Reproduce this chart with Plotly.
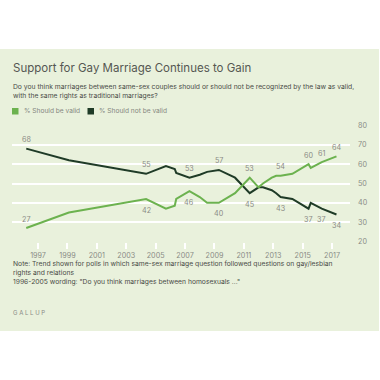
import plotly.graph_objects as go

# ---- data ----
poll_years = [1996.2, 1999.1, 2004.35, 2005.7, 2006.3, 2006.4, 2007.3, 2008.0, 2008.5, 2009.3,
              2010.4, 2011.4, 2012.0, 2012.3, 2012.9, 2013.2, 2013.5, 2014.3, 2015.4, 2015.55,
              2016.3, 2017.3]
should_be_valid = [27, 35, 42, 37, 38.5, 42, 46, 43, 40, 40,
                   45, 53, 48, 50, 53, 54, 54, 55, 60, 58,
                   61, 64]
should_not_be_valid = [68, 62, 55, 59, 57.5, 55.5, 53, 54.5, 56, 57,
                       53, 45, 48, 48, 46.5, 45, 43, 42, 37, 40,
                       37, 34]
# indices of labelled points (index, position)
valid_labels = [(0, "up"), (2, "down"), (6, "down"), (9, "down"), (11, "up"), (16, "up"),
                (18, "up"), (20, "up"), (21, "up")]
not_valid_labels = [(0, "up"), (2, "up"), (6, "up"), (9, "up"), (11, "down"), (16, "down"),
                    (18, "down"), (20, "down"), (21, "down")]
x_ticks = list(range(1997, 2018, 2))
y_ticks = [20, 30, 40, 50, 60, 70, 80]

LIGHT = "#6cb24f"
DARK = "#1f3b27"
BG = "#e9f1dc"
FONT = "Inter, Liberation Sans, sans-serif"

fig = go.Figure()
fig.add_trace(go.Scatter(x=poll_years, y=should_not_be_valid, mode="lines",
                         line=dict(color=DARK, width=2), showlegend=False, hoverinfo="skip"))
fig.add_trace(go.Scatter(x=poll_years, y=should_be_valid, mode="lines",
                         line=dict(color=LIGHT, width=2), showlegend=False, hoverinfo="skip"))

annotations = []
for series, labels in ((should_be_valid, valid_labels), (should_not_be_valid, not_valid_labels)):
    for i, pos in labels:
        annotations.append(dict(x=poll_years[i], y=series[i], xref="x", yref="y",
                                text=str(round(series[i])), showarrow=False,
                                yshift=9 if pos == "up" else -11,
                                font=dict(size=7.2, color="#8a8a84", family=FONT)))

# title / subtitle / notes (paper coordinates; plot area 12..350 x 125..242 px)
def px_x(p):
    return (p - 12) / 338.0

def px_y(p):
    return (242 - p) / 117.0

annotations += [
    dict(x=px_x(11), y=px_y(68), xref="paper", yref="paper", xanchor="left", yanchor="middle",
         text="Support for Gay Marriage Continues to Gain", showarrow=False,
         font=dict(size=11.5, color="#555752", family=FONT)),
    dict(x=px_x(11), y=px_y(90.5), xref="paper", yref="paper", xanchor="left", yanchor="middle",
         text="Do you think marriages between same-sex couples should or should not be recognized by the law as valid,<br>with the same rights as traditional marriages?",
         showarrow=False, align="left",
         font=dict(size=6.75, color="#4a4c47", family=FONT)),
    dict(x=px_x(21.5), y=px_y(111), xref="paper", yref="paper", xanchor="left", yanchor="middle",
         text="% Should be valid", showarrow=False,
         font=dict(size=6.6, color="#85877f", family=FONT)),
    dict(x=px_x(96.5), y=px_y(111), xref="paper", yref="paper", xanchor="left", yanchor="middle",
         text="% Should not be valid", showarrow=False,
         font=dict(size=6.6, color="#85877f", family=FONT)),
    dict(x=px_x(11), y=px_y(272.5), xref="paper", yref="paper", xanchor="left", yanchor="middle",
         text="Note: Trend shown for polls in which same-sex marriage question followed questions on gay/lesbian<br>rights and relations<br>1996-2005 wording: \"Do you think marriages between homosexuals ...\"",
         showarrow=False, align="left",
         font=dict(size=6.75, color="#4a4c47", family=FONT)),
    dict(x=px_x(11), y=px_y(312), xref="paper", yref="paper", xanchor="left", yanchor="middle",
         text="G A L L U P", showarrow=False,
         font=dict(size=6, color="#8a8c86", family=FONT)),
]

shapes = [
    dict(type="rect", xref="paper", yref="paper", x0=px_x(0), x1=px_x(379),
         y0=px_y(331), y1=px_y(49), fillcolor=BG, line=dict(width=0), layer="below"),
    dict(type="rect", xref="paper", yref="paper", x0=px_x(12), x1=px_x(18.5),
         y0=px_y(114.5), y1=px_y(108), fillcolor=LIGHT, line=dict(width=0)),
    dict(type="rect", xref="paper", yref="paper", x0=px_x(87.5), x1=px_x(94),
         y0=px_y(114.5), y1=px_y(108), fillcolor=DARK, line=dict(width=0)),
]

fig.update_layout(
    width=380, height=380,
    margin=dict(l=12, r=30, t=125, b=138),
    paper_bgcolor="white", plot_bgcolor="rgba(0,0,0,0)",
    annotations=annotations, shapes=shapes, showlegend=False,
    xaxis=dict(range=[1995.23, 2018.22], tickvals=x_ticks, ticktext=[str(t) for t in x_ticks],
               showgrid=False, zeroline=False, showline=False,
               ticks="outside", ticklen=6, tickwidth=1.5, tickcolor="white",
               tickfont=dict(size=7.2, color="#8a8c86", family=FONT)),
    yaxis=dict(range=[19.8, 80.2], tickvals=y_ticks, side="right",
               showgrid=True, gridcolor="white", gridwidth=2, zeroline=False, showline=False,
               ticks="", ticklabelstandoff=7,
               tickfont=dict(size=7.2, color="#8a8c86", family=FONT)),
)

fig.write_html("out.html", config={"displayModeBar": False},
               post_script="document.body.style.margin='0';")
